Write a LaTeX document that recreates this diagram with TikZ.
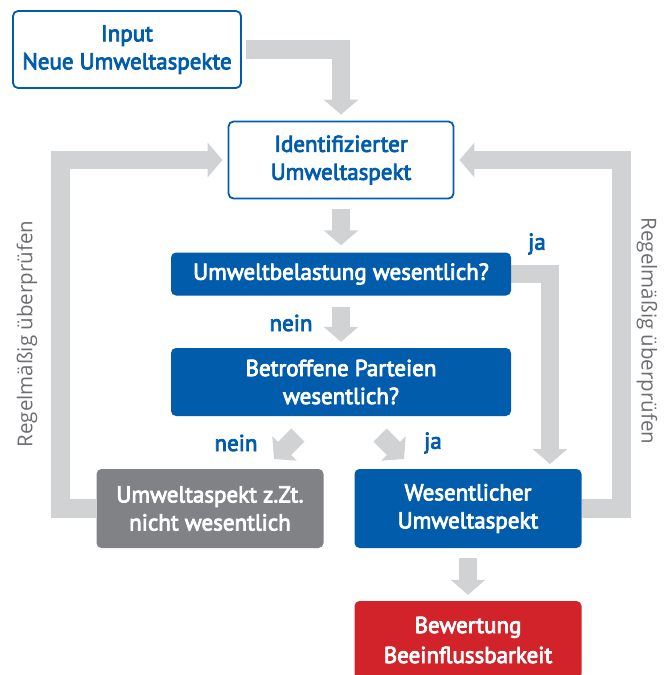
\documentclass[tikz,border=0pt]{standalone}
\usepackage{fontspec}
\setmainfont{PT Sans}
\newfontfamily\medfont{PT Sans}[FakeBold=3.5]
\newfontfamily\lightfont{Open Sans}
\usetikzlibrary{arrows.meta,backgrounds}
\definecolor{dblue}{HTML}{015CAB}
\definecolor{agrey}{HTML}{D1D2D4}
\definecolor{bgrey}{HTML}{808285}
\definecolor{rred}{HTML}{D2232A}
\definecolor{tgrey}{HTML}{6D6E71}
\tikzset{
  box/.style={rounded corners=5pt, minimum width=#1, align=center, font=\medfont\fontsize{23}{28}\selectfont, inner sep=0pt},
  wbox/.style={box=#1, draw=dblue, line width=1.8pt, fill=white, text=dblue},
  bbox/.style={box=#1, fill=dblue, text=white},
  gbox/.style={box=#1, fill=bgrey, text=white},
  rbox/.style={box=#1, fill=rred, text=white},
  garrow/.style={draw=agrey, line width=18.5pt, miter limit=10, -{Triangle[width=34pt,length=15pt]}},
  lbl/.style={text=dblue, font=\medfont\fontsize{23}{28}\selectfont},
  rot/.style={text=tgrey, font=\lightfont\fontsize{20.5}{24}\selectfont}
}
\begin{document}
\begin{tikzpicture}[x=1pt,y=-1pt]
\useasboundingbox (0,0) rectangle (672,675);
% nodes
\node[wbox=228pt, minimum height=77pt] (in) at (127,49.5) {Input\\Neue Umweltaspekte};
\node[wbox=225pt, minimum height=77pt] (id) at (341,160) {Identifizierter\\Umweltaspekt};
\node[bbox=340pt, minimum height=43pt] (ub) at (341,274) {Umweltbelastung wesentlich?};
\node[bbox=340pt, minimum height=68pt] (bt) at (341,382) {Betroffene Parteien\\wesentlich?};
\node[gbox=227pt, minimum height=79pt] (gr) at (210,508.5) {Umweltaspekt z.Zt.\\nicht wesentlich};
\node[bbox=227pt, minimum height=79pt] (we) at (468,508.5) {Wesentlicher\\Umweltaspekt};
\node[rbox=227pt, minimum height=78pt, font=\medfont\fontsize{23}{30}\selectfont] (bw) at (468,640) {Bewertung\\Beeinflussbarkeit};
% connector coordinates
\coordinate (jaend) at (550,464);
\coordinate (nd1) at (298,435);
\coordinate (nd2) at (274,459);
\coordinate (jd1) at (380,435);
\coordinate (jd2) at (404,459);
% arrows
\begin{pgfonlayer}{background}
\path[garrow] ([xshift=4pt]in.east) -| ([yshift=6pt]id.north);
\path[garrow] ([yshift=-10pt]id.south) -- ([yshift=7pt]ub.north);
\path[garrow] ([yshift=-11pt]ub.south) -- ([yshift=6pt]bt.north);
\path[garrow] ([yshift=-10pt]we.south) -- ([yshift=6pt]bw.north);
\path[garrow] (ub.east) -| (jaend);
\path[garrow] (gr.west) -- ++(-36,0) |- ([xshift=-5pt]id.west);
\path[garrow] (we.east) -- ++(40,0) |- ([xshift=5pt]id.east);
\path[garrow] (nd1) -- (nd2);
\path[garrow] (jd1) -- (jd2);
\end{pgfonlayer}
% labels
\node[lbl] (l1) at (537,244) {ja};
\node[lbl] (l2) at (291,323) {nein};
\node[lbl] (l3) at (236,443) {nein};
\node[lbl] (l4) at (433,443) {ja};
\node[rot, rotate=90] (r1) at (27,334) {Regelmäßig überprüfen};
\node[rot, rotate=-90] (r2) at (647,331) {Regelmäßig überprüfen};
\end{tikzpicture}
\end{document}
